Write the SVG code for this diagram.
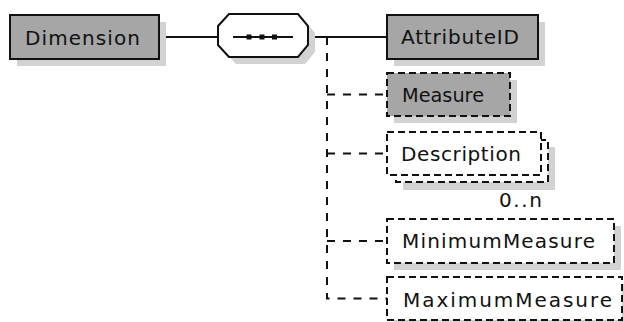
<svg xmlns="http://www.w3.org/2000/svg" width="624" height="322" viewBox="0 0 624 322">
<style>
.shadow{fill:#d2d2d2;stroke:none}
.req{fill:#a6a6a6;stroke:#111;stroke-width:2}
.opt{fill:#a6a6a6;stroke:#111;stroke-width:2;stroke-dasharray:7,4}
.optw{fill:#fff;stroke:#111;stroke-width:2;stroke-dasharray:7,4}
.lbl{font-family:"DejaVu Sans",Verdana,sans-serif;font-size:20px;fill:#111}
.solid{fill:none;stroke:#111;stroke-width:2}
.dash{fill:none;stroke:#111;stroke-width:2;stroke-dasharray:8,8}
</style>
<rect width="624" height="322" fill="#fff"/>
<g id="connectors">
<path class="solid" d="M159,37H218"/>
<path class="solid" d="M308,37H387"/>
<path class="dash" d="M327,37V298.5H387"/>
<path class="dash" d="M327,94.5H387"/>
<path class="dash" d="M327,153.5H387"/>
<path class="dash" d="M327,241H387"/>
</g>
<g id="Dimension">
<rect class="shadow" x="17" y="22" width="149" height="44"/>
<rect class="req" x="10" y="15" width="149" height="44"/>
<text class="lbl" x="25" y="45" textLength="115" lengthAdjust="spacing">Dimension</text>
</g>
<g id="sequence">
<polygon class="shadow" points="236,21 305,21 315,33 315,52 305,64 236,64 225,52 225,33"/>
<polygon fill="#fff" stroke="#111" stroke-width="2" points="229,14 298,14 308,26 308,45 298,57 229,57 218,45 218,26"/>
<path stroke="#111" stroke-width="2" d="M233,37H293"/>
<rect x="246.5" y="34.5" width="5" height="5" fill="#111"/>
<rect x="259.5" y="34.5" width="5" height="5" fill="#111"/>
<rect x="272" y="34.5" width="5" height="5" fill="#111"/>
</g>
<g id="AttributeID">
<rect class="shadow" x="394" y="22" width="151" height="44"/>
<rect class="req" x="387" y="15" width="151" height="44"/>
<text class="lbl" x="401" y="44" textLength="118" lengthAdjust="spacing">AttributeID</text>
</g>
<g id="Measure">
<rect class="shadow" x="394" y="80" width="123" height="43"/>
<rect class="opt" x="387" y="73" width="123" height="43"/>
<text class="lbl" x="402" y="102" textLength="82" lengthAdjust="spacingAndGlyphs">Measure</text>
</g>
<g id="Description">
<rect class="shadow" x="403" y="147" width="152" height="43"/>
<rect class="optw" x="396" y="140" width="152" height="42"/>
<rect class="optw" x="387" y="132" width="154" height="43"/>
<text class="lbl" x="401" y="161" textLength="120" lengthAdjust="spacing">Description</text>
<text class="lbl" x="499" y="207" textLength="43" lengthAdjust="spacing">0..n</text>
</g>
<g id="MinimumMeasure">
<rect class="shadow" x="394" y="226" width="227" height="44"/>
<rect class="optw" x="387" y="219" width="227" height="44"/>
<text class="lbl" x="402" y="248" textLength="193" lengthAdjust="spacing">MinimumMeasure</text>
</g>
<g id="MaximumMeasure">
<rect class="shadow" x="394" y="284" width="235" height="43"/>
<rect class="optw" x="387" y="277" width="235" height="43"/>
<text class="lbl" x="403" y="307" textLength="209" lengthAdjust="spacing">MaximumMeasure</text>
</g>
</svg>
